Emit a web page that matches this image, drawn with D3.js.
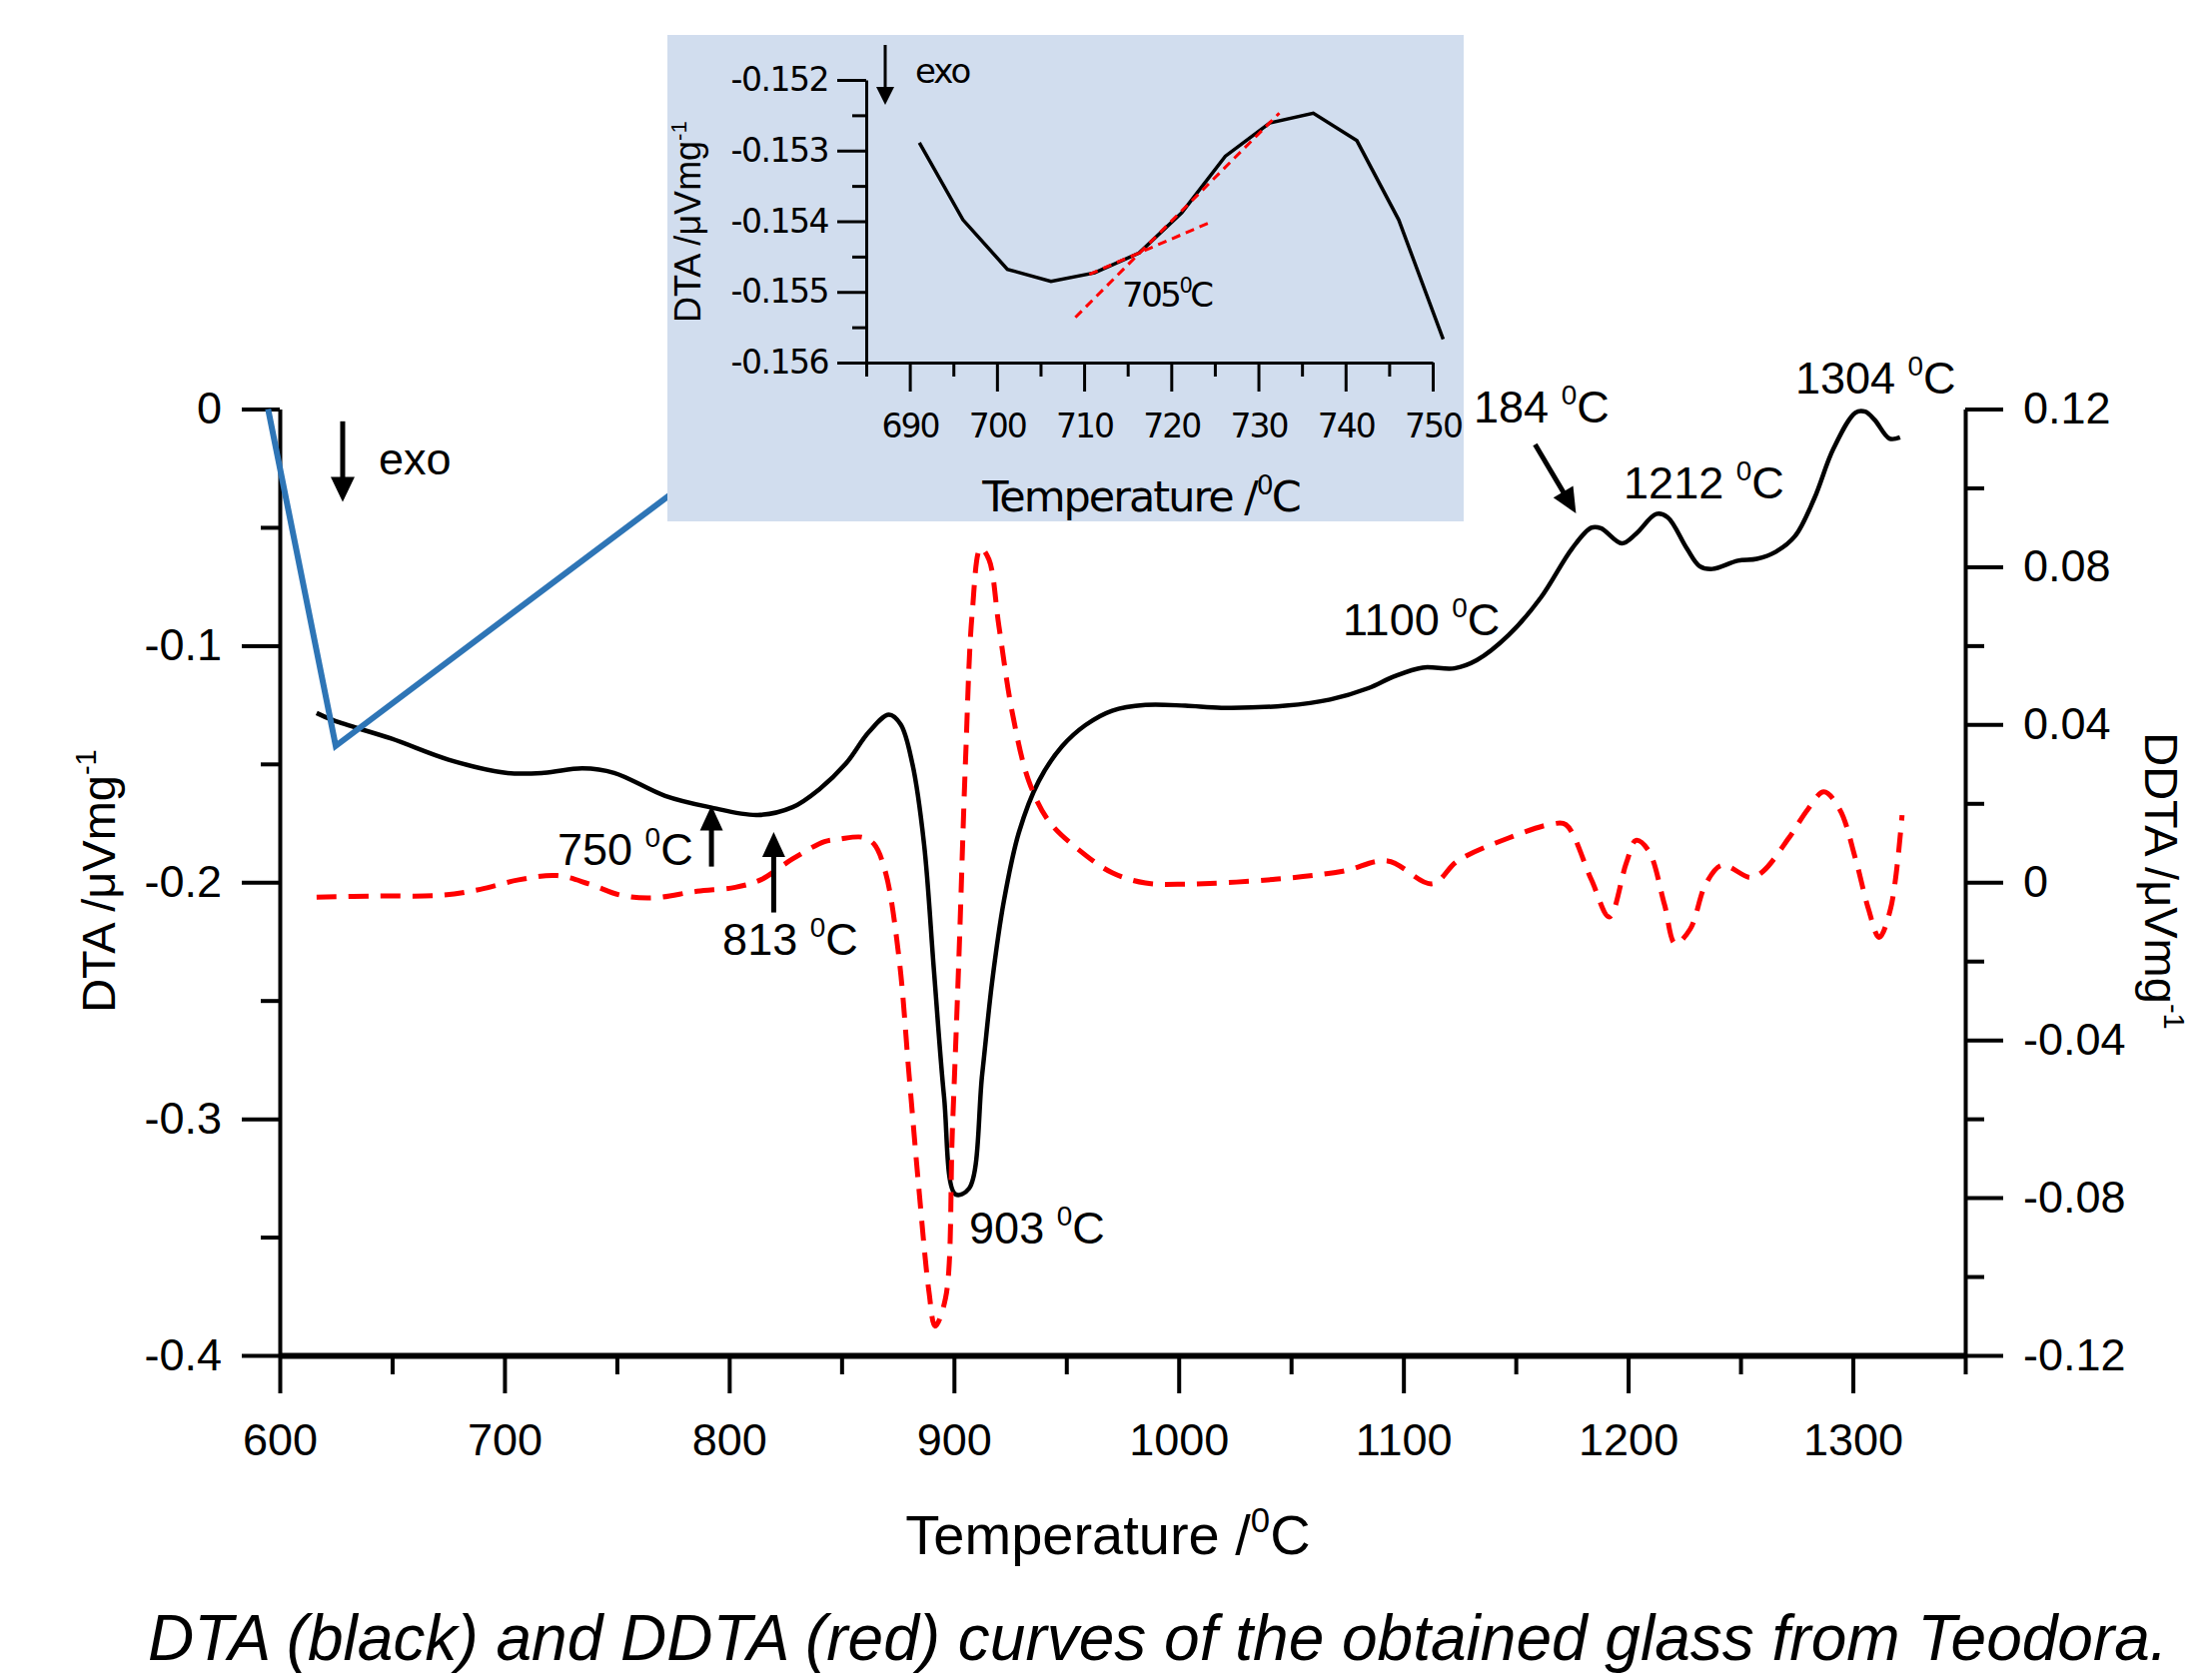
<!DOCTYPE html>
<html>
<head>
<meta charset="utf-8">
<script src="https://cdn.jsdelivr.net/npm/d3@7/dist/d3.min.js"></script>
<style>
    body { margin: 0; background: #fff; }
    svg { display: block; }
</style>
</head>
<body>
<div id="chart"></div>
<script>
// DTA curve (black, left axis)
const dtaTemperature = [616.4, 624.1, 649.6, 675.1, 700.6, 717.6, 734.7, 748.8, 771.5, 791.3, 812.6, 828.2, 840, 851.9,
    862.2, 871.1, 876.3, 881.5, 886.7, 891.1, 895.6, 900.7, 906.7, 912.6, 917, 922.2, 928.9, 937.8, 948.1, 958.5, 970.4,
    985.2, 1003, 1019.2, 1047.5, 1067.4, 1084.4, 1095.7, 1108.5, 1122.7, 1132.6, 1146.8, 1161, 1175.1, 1183.6, 1187.9,
    1197.2, 1203.5, 1212.5, 1217.6, 1226.1, 1231.8, 1237.5, 1248.8, 1257.3, 1265.8, 1274.3, 1282.8, 1291.3, 1301.2,
    1305.5, 1309.7, 1316.3, 1321];
const dtaSignal = [-0.1285, -0.1317, -0.1393, -0.1482, -0.1538, -0.1538, -0.1519, -0.1538, -0.1635, -0.1683, -0.1716,
    -0.1683, -0.1608, -0.1499, -0.1365, -0.1292, -0.1333, -0.1499, -0.1838, -0.2372, -0.2906, -0.3319, -0.3295, -0.2809,
    -0.2421, -0.2081, -0.179, -0.1572, -0.1426, -0.1336, -0.1275, -0.1251, -0.1254, -0.1263, -0.1254, -0.1228, -0.118,
    -0.1131, -0.1093, -0.1096, -0.1062, -0.0956, -0.0799, -0.0589, -0.0502, -0.0504, -0.0568, -0.0528, -0.0444, -0.0458,
    -0.0589, -0.0664, -0.0676, -0.0641, -0.0633, -0.0603, -0.0537, -0.0379, -0.0169, -0.0015, -0.0011, -0.0046, -0.0125,
    -0.012];

// DDTA curve (red dashed, right axis)
const ddtaTemperature = [616.4, 644, 672.3, 689.3, 706.3, 723.3, 737.5, 751.7, 765.8, 785.7, 802.7, 814, 828.2, 842.4,
    848.9, 859.3, 864.4, 869.6, 875.6, 880, 884.4, 888.9, 891.6, 896.3, 899.3, 902.2, 905.2, 908.1, 911.9, 915.6, 920,
    925.9, 933.3, 942.2, 955.6, 970.4, 985.2, 1003, 1041.9, 1073.1, 1092.9, 1112.8, 1124.1, 1146.8, 1166.6, 1172.3,
    1183.6, 1191.6, 1199.2, 1203.5, 1209.1, 1216.2, 1221, 1227.6, 1234.6, 1241.7, 1254.5, 1260.1, 1271.5, 1280, 1287.1,
    1294.1, 1301.2, 1306.9, 1311.7, 1316.8, 1321.9];
const ddtaSignal = [-0.0038, -0.0035, -0.0033, -0.0018, 0.0006, 0.0017, -0.0004, -0.0033, -0.004, -0.0023, -0.0013,
    0.0006, 0.0059, 0.0103, 0.0109, 0.0114, 0.0097, 0.0024, -0.0194, -0.0486, -0.0777, -0.1039, -0.1126, -0.1054, -0.0631,
    -0.0194, 0.0315, 0.068, 0.0847, 0.0818, 0.065, 0.0432, 0.0257, 0.0155, 0.0082, 0.0024, -0.0002, -0.0005, 0.0007,
    0.0028, 0.0054, -0.0004, 0.0054, 0.0112, 0.0148, 0.0146, 0.0007, -0.0088, 0.0049, 0.0106, 0.008, -0.0057, -0.0156,
    -0.0119, -0.0004, 0.0043, 0.0012, 0.0028, 0.0112, 0.0185, 0.0229, 0.0185, 0.0059, -0.0067, -0.014, -0.0067, 0.017];

// zoom lines (blue) joining the curve start to the inset
const zoomLine = [[594.8, 0], [624.9, -0.1424], [786.4, -0.0272]];

// inset: DTA around the glass transition
const insetTemperature = [691.1, 696.1, 701.2, 706.2, 711.2, 716.3, 721.2, 726.2, 731.3, 736.3, 741.3, 746.1, 751.2];
const insetSignal = [-0.15289, -0.15398, -0.15468, -0.15485, -0.15473, -0.15445, -0.15388, -0.15308, -0.15261,
    -0.15247, -0.15286, -0.15398, -0.15567];
const tangentSteep = [[709.0, -0.15536], [732.4, -0.15247]];
const tangentShallow = [[710.6, -0.15475], [724.2, -0.15403]];

// ticks
const xMajorTicks = [600, 700, 800, 900, 1000, 1100, 1200, 1300];
const xMinorTicks = [650, 750, 850, 950, 1050, 1150, 1250, 1350];
const dtaMajorTicks = [0, -0.1, -0.2, -0.3, -0.4];
const dtaMinorTicks = [-0.05, -0.15, -0.25, -0.35];
const ddtaMajorTicks = [0.12, 0.08, 0.04, 0, -0.04, -0.08, -0.12];
const ddtaMinorTicks = [0.1, 0.06, 0.02, -0.02, -0.06, -0.1];
const insetXMajorTicks = [690, 700, 710, 720, 730, 740, 750];
const insetXMinorTicks = [685, 695, 705, 715, 725, 735, 745];
const insetYMajorTicks = [-0.152, -0.153, -0.154, -0.155, -0.156];
const insetYMinorTicks = [-0.1525, -0.1535, -0.1545, -0.1555];

// peak annotations
const peakLabels = ['750 ', '813 ', '903 ', '1100 ', '184 ', '1212 ', '1304 '];
const peakLabelTemp = [723.6, 797, 906.8, 1073, 1131.3, 1198, 1274.4];
const peakLabelSignal = [-0.1927, -0.2307, -0.3527, -0.0956, -0.0057, -0.0378, 0.0065];
const peakArrows = [
    [[792.1, -0.1934], [792.1, -0.1676]],
    [[819.8, -0.2128], [819.8, -0.1788]],
    [[1158.6, -0.0150], [1176.8, -0.0441]]
];
const exoArrow = [[628.0, -0.0052], [628.0, -0.0393]];
const exoText = [644.0, -0.0277];

const FONT = '"Liberation Sans", Arial, sans-serif';
const INSET_FONT = '"DejaVu Sans", sans-serif';

let svg;
let x, yLeft, yRight;
let insetX, insetY;

initSvg();
drawAxes();
drawCurves();
drawAnnotations();
drawInset();


function initSvg(){
    svg = d3.select('#chart')
        .append('svg')
        .attr('width', 2214)
        .attr('height', 1680);

    svg.append('rect')
        .attr('width', 2214)
        .attr('height', 1680)
        .attr('fill', '#fff');

    x = d3.scaleLinear().domain([600, 1350]).range([280, 1967]);
    yLeft = d3.scaleLinear().domain([-0.4, 0]).range([1357, 409.5]);
    yRight = d3.scaleLinear().domain([-0.12, 0.12]).range([1357, 409.5]);
}

function numberFormat(digits){
    return d => d === 0 ? '0' : String(+d.toFixed(digits));
}

function styleAxis(g, width, font, size){
    g.attr('font-family', font).attr('font-size', size);
    g.selectAll('.domain').attr('stroke', '#000').attr('stroke-width', width);
    g.selectAll('.tick line').attr('stroke', '#000').attr('stroke-width', width);
    g.selectAll('.tick text').attr('fill', '#000');
}

function appendDegree(text, prefix, size){
    text.append('tspan').text(prefix);
    text.append('tspan').attr('font-size', size * 0.62).attr('dy', -size * 0.4).text('0');
    text.append('tspan').attr('font-size', size).attr('dy', size * 0.4).text('C');
}

function appendUnit(text, prefix, size){
    text.append('tspan').text(prefix);
    text.append('tspan').attr('font-size', size * 0.62).attr('dy', -size * 0.4).text('-1');
}

function drawArrow(g, x1, y1, x2, y2, headLength, headWidth, width){
    let dx = x2 - x1;
    let dy = y2 - y1;
    let len = Math.sqrt(dx * dx + dy * dy);
    let ux = dx / len;
    let uy = dy / len;
    let bx = x2 - ux * headLength;
    let by = y2 - uy * headLength;

    g.append('line')
        .attr('x1', x1).attr('y1', y1)
        .attr('x2', bx + ux * 2).attr('y2', by + uy * 2)
        .attr('stroke', '#000')
        .attr('stroke-width', width);

    g.append('path')
        .attr('d', 'M' + x2 + ',' + y2 +
            'L' + (bx - uy * headWidth / 2) + ',' + (by + ux * headWidth / 2) +
            'L' + (bx + uy * headWidth / 2) + ',' + (by - ux * headWidth / 2) + 'Z')
        .attr('fill', '#000');
}

function drawAxes(){
    let bottom = svg.append('g')
        .attr('transform', 'translate(0,' + yLeft.range()[0] + ')');
    bottom.call(d3.axisBottom(x).tickValues(xMajorTicks).tickSize(38).tickPadding(30)
        .tickSizeOuter(0).tickFormat(d3.format('d')));
    bottom.append('g')
        .call(d3.axisBottom(x).tickValues(xMinorTicks).tickSize(19).tickSizeOuter(0).tickFormat(''))
        .call(g => g.select('.domain').remove());
    styleAxis(bottom, 4, FONT, 45);
    bottom.select('.domain').attr('stroke-width', 6);

    let left = svg.append('g')
        .attr('transform', 'translate(' + x.range()[0] + ',0)');
    left.call(d3.axisLeft(yLeft).tickValues(dtaMajorTicks).tickSize(38).tickPadding(20)
        .tickSizeOuter(0).tickFormat(numberFormat(2)));
    left.append('g')
        .call(d3.axisLeft(yLeft).tickValues(dtaMinorTicks).tickSize(19).tickSizeOuter(0).tickFormat(''))
        .call(g => g.select('.domain').remove());
    styleAxis(left, 4, FONT, 45);

    let right = svg.append('g')
        .attr('transform', 'translate(' + x.range()[1] + ',0)');
    right.call(d3.axisRight(yRight).tickValues(ddtaMajorTicks).tickSize(38).tickPadding(20)
        .tickSizeOuter(0).tickFormat(numberFormat(2)));
    right.append('g')
        .call(d3.axisRight(yRight).tickValues(ddtaMinorTicks).tickSize(19).tickSizeOuter(0).tickFormat(''))
        .call(g => g.select('.domain').remove());
    styleAxis(right, 4, FONT, 45);

    // axis titles
    let xTitle = svg.append('text')
        .attr('x', 1109)
        .attr('y', 1556)
        .attr('text-anchor', 'middle')
        .attr('font-family', FONT)
        .attr('font-size', 56);
    appendDegree(xTitle, 'Temperature /', 56);

    let leftTitle = svg.append('text')
        .attr('transform', 'translate(115,882) rotate(-90)')
        .attr('text-anchor', 'middle')
        .attr('font-family', FONT)
        .attr('font-size', 47);
    appendUnit(leftTitle, 'DTA /μVmg', 47);

    let rightTitle = svg.append('text')
        .attr('transform', 'translate(2147,882) rotate(90)')
        .attr('text-anchor', 'middle')
        .attr('font-family', FONT)
        .attr('font-size', 47);
    appendUnit(rightTitle, 'DDTA /μVmg', 47);

    // caption, kept just inside the bottom edge
    svg.append('text')
        .attr('x', 148)
        .attr('y', 1662)
        .attr('font-family', FONT)
        .attr('font-style', 'italic')
        .attr('font-size', 64)
        .text('DTA (black) and DDTA (red) curves of the obtained glass from Teodora.');
}

function drawCurves(){
    let dtaLine = d3.line()
        .x(d => x(d[0]))
        .y(d => yLeft(d[1]))
        .curve(d3.curveCatmullRom.alpha(0.5));

    let ddtaLine = d3.line()
        .x(d => x(d[0]))
        .y(d => yRight(d[1]))
        .curve(d3.curveCatmullRom.alpha(0.5));

    svg.append('path')
        .datum(d3.zip(dtaTemperature, dtaSignal))
        .attr('class', 'dta-line')
        .attr('d', dtaLine)
        .attr('fill', 'none')
        .attr('stroke', '#000')
        .attr('stroke-width', 4.5)
        .attr('stroke-linejoin', 'round');

    svg.append('path')
        .datum(d3.zip(ddtaTemperature, ddtaSignal))
        .attr('class', 'ddta-line')
        .attr('d', ddtaLine)
        .attr('fill', 'none')
        .attr('stroke', '#ff0000')
        .attr('stroke-width', 5)
        .attr('stroke-dasharray', '20,12');

    svg.append('path')
        .datum(zoomLine)
        .attr('d', d3.line().x(d => x(d[0])).y(d => yLeft(d[1])))
        .attr('fill', 'none')
        .attr('stroke', '#2e75b6')
        .attr('stroke-width', 6);
}

function drawAnnotations(){
    let g = svg.append('g')
        .attr('font-family', FONT)
        .attr('font-size', 45);

    peakLabels.forEach((label, i) => {
        let text = g.append('text')
            .attr('x', x(peakLabelTemp[i]))
            .attr('y', yLeft(peakLabelSignal[i]));
        appendDegree(text, label, 45);
    });

    peakArrows.forEach((arrow) => {
        drawArrow(g, x(arrow[0][0]), yLeft(arrow[0][1]), x(arrow[1][0]), yLeft(arrow[1][1]), 25, 23, 5);
    });

    drawArrow(g, x(exoArrow[0][0]), yLeft(exoArrow[0][1]), x(exoArrow[1][0]), yLeft(exoArrow[1][1]), 25, 24, 5);

    g.append('text')
        .attr('x', x(exoText[0]))
        .attr('y', yLeft(exoText[1]))
        .text('exo');
}

function drawInset(){
    let box = {x: 668, y: 35, width: 797, height: 487};

    svg.append('clipPath')
        .attr('id', 'inset-clip')
        .append('rect')
        .attr('x', box.x).attr('y', box.y)
        .attr('width', box.width).attr('height', box.height);

    let inset = svg.append('g')
        .attr('class', 'inset')
        .attr('clip-path', 'url(#inset-clip)');

    inset.append('rect')
        .attr('x', box.x).attr('y', box.y)
        .attr('width', box.width).attr('height', box.height)
        .attr('fill', '#d1ddee');

    insetX = d3.scaleLinear().domain([685, 750]).range([867, 1434]);
    insetY = d3.scaleLinear().domain([-0.156, -0.152]).range([363, 80]);

    let bottom = inset.append('g')
        .attr('transform', 'translate(0,' + insetY.range()[0] + ')');
    bottom.call(d3.axisBottom(insetX).tickValues(insetXMajorTicks).tickSize(29).tickPadding(23)
        .tickSizeOuter(0).tickFormat(d3.format('d')));
    bottom.append('g')
        .call(d3.axisBottom(insetX).tickValues(insetXMinorTicks).tickSize(14).tickSizeOuter(0).tickFormat(''))
        .call(g => g.select('.domain').remove());
    styleAxis(bottom, 3, INSET_FONT, 33);
    bottom.attr('letter-spacing', -2);

    let left = inset.append('g')
        .attr('transform', 'translate(' + insetX.range()[0] + ',0)');
    left.call(d3.axisLeft(insetY).tickValues(insetYMajorTicks).tickSize(29).tickPadding(9)
        .tickSizeOuter(0).tickFormat(numberFormat(3)));
    left.append('g')
        .call(d3.axisLeft(insetY).tickValues(insetYMinorTicks).tickSize(14).tickSizeOuter(0).tickFormat(''))
        .call(g => g.select('.domain').remove());
    styleAxis(left, 3, INSET_FONT, 33);
    left.attr('letter-spacing', -1.5);

    let xTitle = inset.append('text')
        .attr('x', 1142)
        .attr('y', 512)
        .attr('text-anchor', 'middle')
        .attr('font-family', INSET_FONT)
        .attr('letter-spacing', -2)
        .attr('font-size', 43);
    appendDegree(xTitle, 'Temperature /', 43);

    let yTitle = inset.append('text')
        .attr('transform', 'translate(701,222) rotate(-90)')
        .attr('text-anchor', 'middle')
        .attr('font-family', FONT)
        .attr('font-size', 36);
    appendUnit(yTitle, 'DTA /μVmg', 36);

    inset.append('path')
        .datum(d3.zip(insetTemperature, insetSignal))
        .attr('d', d3.line().x(d => insetX(d[0])).y(d => insetY(d[1])))
        .attr('fill', 'none')
        .attr('stroke', '#000')
        .attr('stroke-width', 3.5);

    [tangentSteep, tangentShallow].forEach((tangent) => {
        inset.append('path')
            .datum(tangent)
            .attr('d', d3.line().x(d => insetX(d[0])).y(d => insetY(d[1])))
            .attr('fill', 'none')
            .attr('stroke', '#ff0000')
            .attr('stroke-width', 3)
            .attr('stroke-dasharray', '9,6');
    });

    drawArrow(inset, 886, 45, 886, 105, 18, 18, 3);

    inset.append('text')
        .attr('x', 916)
        .attr('y', 83)
        .attr('font-family', INSET_FONT)
        .attr('font-size', 34)
        .attr('letter-spacing', -2)
        .text('exo');

    let tgLabel = inset.append('text')
        .attr('x', 1123)
        .attr('y', 307)
        .attr('font-family', INSET_FONT)
        .attr('font-size', 34)
        .attr('letter-spacing', -2.5);
    appendDegree(tgLabel, '705', 34);
}
</script>
</body>
</html>
